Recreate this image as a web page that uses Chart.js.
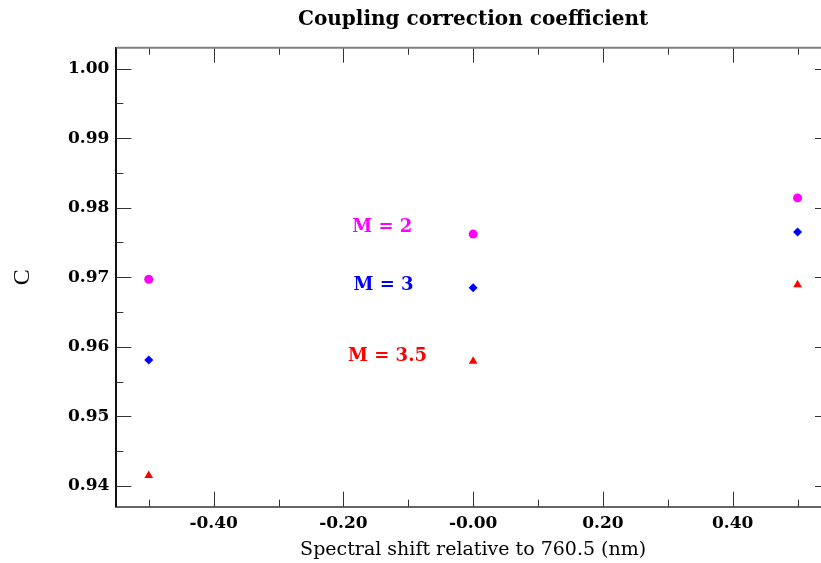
<!DOCTYPE html>
<html><head><meta charset="utf-8">
<script src="https://cdn.jsdelivr.net/npm/chart.js@4/dist/chart.umd.min.js"></script>
<style>
html,body{margin:0;padding:0;background:#fff;overflow:hidden;width:821px;height:563px}
#wrap{width:835px;height:563px}
</style></head>
<body><div id="wrap"><canvas id="c" width="835" height="563"></canvas></div>
<script>
// ---- data ----
const shiftValues = [-0.5, 0.0, 0.5];
const seriesNames = ['M = 2', 'M = 3', 'M = 3.5'];
const cM2  = [0.9697, 0.9762, 0.9814];
const cM3  = [0.9581, 0.9685, 0.9765];
const cM35 = [0.9415, 0.9579, 0.9689];
const labelX = [-0.140, -0.138, -0.132];
const labelY = [0.9771, 0.9688, 0.9586];
const xTickValues = [-0.4, -0.2, 0.0, 0.2, 0.4];
const xTickLabels = ['-0.40', '-0.20', '-0.00', '0.20', '0.40'];
const xMinorValues = [-0.5, -0.3, -0.1, 0.1, 0.3, 0.5];
const yTickValues = [0.94, 0.95, 0.96, 0.97, 0.98, 0.99, 1.00];
const yTickLabels = ['0.94', '0.95', '0.96', '0.97', '0.98', '0.99', '1.00'];
const yMinorValues = [0.945, 0.955, 0.965, 0.975, 0.985, 0.995];

const colors = ['#ff00ff', '#0000ff', '#ff0000'];
const styles = ['circle', 'rectRot', 'triangle'];
const radii = [4.5, 4.5, 5];
const seriesValues = [cM2, cM3, cM35];

const tickFont = {family: 'DejaVu Serif', weight: 'bold', size: 17};

const ticksPlugin = {
  id: 'innerTicks',
  afterDraw(chart) {
    const {ctx, chartArea: a, scales: {x, y}} = chart;
    ctx.save();
    ctx.strokeStyle = '#333';
    ctx.lineWidth = 1;
    const MAJ = 15, MIN = 7;
    ctx.beginPath();
    const vx = (v, len) => {
      const px = Math.round(x.getPixelForValue(v)) + 0.5;
      ctx.moveTo(px, a.bottom); ctx.lineTo(px, a.bottom - len);
      ctx.moveTo(px, a.top); ctx.lineTo(px, a.top + len);
    };
    const vy = (v, len) => {
      const py = Math.round(y.getPixelForValue(v)) + 0.5;
      ctx.moveTo(a.left, py); ctx.lineTo(a.left + len, py);
      ctx.moveTo(a.right, py); ctx.lineTo(a.right - len, py);
    };
    xTickValues.forEach(v => vx(v, MAJ));
    xMinorValues.forEach(v => vx(v, MIN));
    yTickValues.forEach(v => vy(v, MAJ));
    yMinorValues.forEach(v => vy(v, MIN));
    ctx.stroke();
    // top frame line
    ctx.strokeStyle = '#808080';
    ctx.lineWidth = 2;
    ctx.beginPath();
    ctx.moveTo(a.left, a.top); ctx.lineTo(a.right, a.top);
    ctx.stroke();
    // series labels
    ctx.font = 'bold 18px "DejaVu Serif"';
    ctx.textAlign = 'center';
    ctx.textBaseline = 'middle';
    seriesNames.forEach((n, i) => {
      ctx.fillStyle = colors[i];
      ctx.fillText(n, x.getPixelForValue(labelX[i]), y.getPixelForValue(labelY[i]));
    });
    ctx.restore();
  }
};

new Chart(document.getElementById('c'), {
  type: 'scatter',
  data: {
    datasets: seriesNames.map((n, i) => ({
      label: n,
      data: shiftValues.map((s, j) => ({x: s, y: seriesValues[i][j]})),
      pointStyle: styles[i],
      pointRadius: radii[i],
      backgroundColor: colors[i],
      borderColor: colors[i],
      borderWidth: 0,
      showLine: false
    }))
  },
  options: {
    responsive: false,
    animation: false,
    layout: {padding: {left: 0, right: 2.5, top: 0, bottom: 0}},
    plugins: {
      legend: {display: false},
      tooltip: {enabled: false},
      title: {
        display: true,
        fullSize: false,
        text: 'Coupling correction coefficient',
        color: '#000',
        font: {family: 'DejaVu Serif', weight: 'bold', size: 20},
        padding: {top: 8, bottom: 15.7}
      }
    },
    scales: {
      x: {
        type: 'linear',
        min: -0.55, max: 0.55,
        afterFit(s) { s.height = 56.3; },
        afterBuildTicks(s) { s.ticks = xTickValues.map(v => ({value: v})); },
        grid: {display: false, drawTicks: false, tickLength: 0},
        border: {display: true, color: '#666', width: 2},
        ticks: {
          color: '#000', font: tickFont, padding: 7, maxRotation: 0,
          callback: (v, i) => xTickLabels[i]
        },
        title: {
          display: true, text: 'Spectral shift relative to 760.5 (nm)', color: '#000',
          font: {family: 'DejaVu Serif', size: 19}, padding: {top: 0, bottom: 2}
        }
      },
      y: {
        type: 'linear',
        min: 0.937, max: 1.003,
        afterFit(s) { s.width = 116.3; },
        afterBuildTicks(s) { s.ticks = yTickValues.map(v => ({value: v})); },
        grid: {display: false, drawTicks: false, tickLength: 0},
        border: {display: true, color: '#111', width: 2},
        ticks: {
          color: '#000', font: tickFont, padding: 7,
          callback: (v, i) => yTickLabels[i]
        },
        title: {
          display: true, text: 'C', color: '#000',
          font: {family: 'Liberation Serif', size: 24}, padding: {top: 8, bottom: 0}
        }
      }
    }
  },
  plugins: [ticksPlugin]
});
</script>
</body></html>
